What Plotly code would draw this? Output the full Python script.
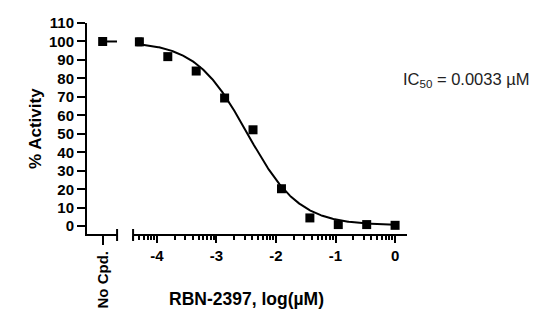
import numpy as np
import plotly.graph_objects as go

# --- data ---
log_conc = [-4.294, -3.817, -3.340, -2.863, -2.386, -1.908, -1.431, -0.954, -0.477, 0.0]
activity = [99.8, 91.8, 84.0, 69.4, 52.2, 20.3, 4.5, 0.9, 0.9, 0.5]
activity_err = [2.0, 1.5, 1.5, 1.0, 1.0, 1.0, 0.8, 0.5, 0.5, 0.5]
nocpd_label = ["No Cpd."]
nocpd_value = [100.0]
# fit parameters (4PL)
fit_top = 100.0
fit_bottom = 0.5
fit_logic50 = np.log10(0.0033)
fit_hill = 1.0
y_ticks = [0, 10, 20, 30, 40, 50, 60, 70, 80, 90, 100, 110]
x_ticks = [-4, -3, -2, -1, 0]

FONT = "Arial, Liberation Sans, sans-serif"

xfit = np.linspace(min(log_conc), max(log_conc), 300)
yfit = fit_bottom + (fit_top - fit_bottom) / (1 + 10 ** ((xfit - fit_logic50) * fit_hill))

minor = []
for d in range(-5, 1):
    for k in range(2, 10):
        v = d + np.log10(k)
        if -4.40 <= v <= 0.20:
            minor.append(v)

fig = go.Figure()
# No compound point + short dash
fig.add_trace(go.Scatter(x=[0, 0.92], y=[nocpd_value[0], nocpd_value[0]], mode="lines",
                         line=dict(color="black", width=2), xaxis="x", yaxis="y", showlegend=False,
                         cliponaxis=False))
fig.add_trace(go.Scatter(x=[0], y=nocpd_value, mode="markers",
                         marker=dict(symbol="square", size=9, color="black"),
                         xaxis="x", yaxis="y", showlegend=False, cliponaxis=False))
# fit curve
fig.add_trace(go.Scatter(x=xfit, y=yfit, mode="lines", line=dict(color="black", width=2),
                         xaxis="x2", yaxis="y", showlegend=False))
# data points
fig.add_trace(go.Scatter(x=log_conc, y=activity, mode="markers",
                         marker=dict(symbol="square", size=9, color="black"),
                         error_y=dict(type="data", array=activity_err, color="black", thickness=1.5, width=3),
                         xaxis="x2", yaxis="y", showlegend=False, cliponaxis=False))

axis_common = dict(showline=True, linecolor="black", linewidth=2, ticks="outside",
                   tickwidth=2, tickcolor="black", showgrid=False, zeroline=False,
                   tickfont=dict(family=FONT, size=15, color="black", weight="bold"))

fig.update_layout(
    width=545, height=333,
    margin=dict(l=87, r=138, t=23, b=99),
    plot_bgcolor="white", paper_bgcolor="white",
    xaxis=dict(domain=[0, 0.094], range=[-1, 0.92], tickmode="array", tickvals=[0],
               ticktext=nocpd_label, tickangle=-90, ticklen=9, anchor="y", **axis_common),
    xaxis2=dict(domain=[0.144, 1], range=[-4.40, 0.20], tickmode="array", tickvals=x_ticks,
                ticktext=[str(v) for v in x_ticks], ticklen=7, anchor="y",
                minor=dict(tickmode="array", tickvals=minor, ticklen=4, tickwidth=1.5,
                           tickcolor="black", ticks="outside"),
                **axis_common),
    yaxis=dict(range=[-4.2, 110], tickmode="array", tickvals=y_ticks, ticklen=8,
               anchor="x", **axis_common),
    annotations=[
        dict(text="<b>RBN-2397, log(µM)</b>", x=(246.5 - 87) / 320, y=(234 - 299) / 211,
             xref="paper", yref="paper", showarrow=False, xanchor="center", yanchor="middle",
             font=dict(family=FONT, size=17.5, color="black")),
        dict(text="<b>% Activity</b>", x=(35 - 87) / 320, y=(234 - 129) / 211,
             xref="paper", yref="paper", showarrow=False, xanchor="center", yanchor="middle",
             textangle=-90, font=dict(family=FONT, size=17, color="black")),
        dict(text="IC<sub>50</sub> = 0.0033 µM", x=(401 - 87) / 320, y=(234 - 80) / 211,
             xref="paper", yref="paper", showarrow=False, xanchor="left", yanchor="middle",
             font=dict(family=FONT, size=16.5, color="#222222")),
    ],
)

# break caps (pixel-sized vertical bars at the inner ends of the broken axis)
for xr, xv in [("x domain", 1), ("x2 domain", 0)]:
    fig.add_shape(type="line", xref=xr, yref="paper", x0=xv, x1=xv,
                  ysizemode="pixel", yanchor=0, y0=-7, y1=5,
                  line=dict(color="black", width=2))

fig.write_html("out.html")
